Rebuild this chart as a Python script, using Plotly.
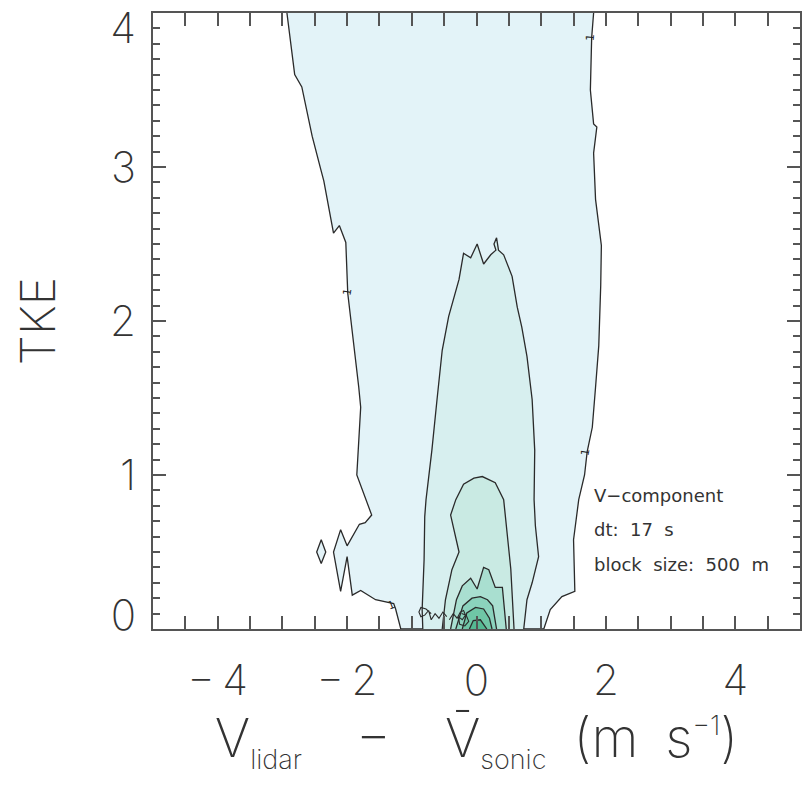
import plotly.graph_objects as go

# ---- contour boundaries (data coordinates) ----
# level 1 (outermost), left boundary, top -> bottom
outer_left_x = [-2.93, -2.81, -2.70, -2.54, -2.41, -2.36, -2.21, -2.12, -2.02, -1.99,
                -1.82, -1.79, -1.85, -1.77, -1.66, -1.62, -1.72, -1.81, -2.00, -2.10,
                -2.21, -2.10, -2.00, -1.92, -1.79, -1.56, -1.28, -1.25, -1.17]
outer_left_y = [4.00, 3.60, 3.52, 3.20, 2.99, 2.91, 2.57, 2.62, 2.51, 2.18,
                1.57, 1.44, 1.00, 0.91, 0.78, 0.74, 0.69, 0.68, 0.54, 0.645,
                0.50, 0.245, 0.47, 0.22, 0.25, 0.19, 0.165, 0.13, 0.00]
# level 1, right boundary, bottom -> top
outer_right_x = [1.04, 1.14, 1.32, 1.52, 1.50, 1.58, 1.67, 1.71, 1.79, 1.84,
                 1.89, 1.92, 1.93, 1.84, 1.81, 1.86, 1.81, 1.76, 1.78, 1.81]
outer_right_y = [0.00, 0.126, 0.21, 0.245, 0.58, 0.84, 1.00, 1.15, 1.31, 1.57,
                 1.84, 2.23, 2.49, 2.79, 3.09, 3.26, 3.28, 3.50, 3.84, 4.00]
# isolated level-1 island
island_x = [-2.40, -2.47, -2.40, -2.33, -2.40]
island_y = [0.58, 0.50, 0.425, 0.50, 0.58]

level2_x = [-0.83, -0.84, -0.81, -0.80, -0.78, -0.69, -0.61, -0.53, -0.43, -0.27,
            -0.20, -0.09, 0.01, 0.11, 0.22, 0.30, 0.27, 0.31, 0.34, 0.42,
            0.55, 0.63, 0.70, 0.78, 0.86, 0.90, 0.89, 0.91, 0.96, 0.86, 0.78, 0.73]
level2_y = [0.00, 0.126, 0.45, 0.73, 0.84, 1.16, 1.49, 1.81, 2.03, 2.27,
            2.44, 2.41, 2.50, 2.37, 2.43, 2.46, 2.50, 2.54, 2.46, 2.43,
            2.29, 2.09, 1.96, 1.77, 1.49, 1.16, 0.84, 0.67, 0.47, 0.30, 0.19, 0.00]

level3_x = [-0.53, -0.48, -0.38, -0.27, -0.40, -0.32, -0.20, -0.04, 0.09, 0.29,
            0.42, 0.47, 0.53, 0.58]
level3_y = [0.00, 0.19, 0.385, 0.50, 0.74, 0.84, 0.94, 0.98, 0.99, 0.95,
            0.84, 0.645, 0.39, 0.00]

level4_x = [-0.40, -0.31, -0.22, -0.09, 0.01, 0.11, 0.19, 0.29, 0.40, 0.46]
level4_y = [0.00, 0.19, 0.28, 0.33, 0.26, 0.40, 0.385, 0.27, 0.27, 0.00]

level5_x = [-0.32, -0.21, -0.07, 0.06, 0.17, 0.25, 0.31]
level5_y = [0.00, 0.15, 0.20, 0.21, 0.19, 0.15, 0.00]

level6_x = [-0.22, -0.15, -0.015, 0.11, 0.20, 0.24]
level6_y = [0.00, 0.105, 0.14, 0.13, 0.07, 0.00]

level7_x = [-0.11, -0.05, 0.06, 0.16]
level7_y = [0.00, 0.055, 0.06, 0.00]

# small noisy contour loops near the origin
loop_a_x = [-0.70, -0.78, -0.86, -0.89, -0.86, -0.80, -0.74, -0.70, -0.64, -0.58, -0.52, -0.46]
loop_a_y = [0.10, 0.13, 0.14, 0.11, 0.08, 0.09, 0.12, 0.06, 0.10, 0.07, 0.11, 0.08]
loop_b_x = [-0.42, -0.36, -0.30, -0.25, -0.20, -0.17, -0.22, -0.28, -0.26, -0.18, -0.12, -0.16, -0.23]
loop_b_y = [0.06, 0.10, 0.07, 0.11, 0.12, 0.09, 0.06, 0.08, 0.03, 0.02, 0.05, 0.09, 0.10]

# contour level labels ("1") placed on the outer contour
clabel_x = [-1.99, 1.76, 1.69, -1.32]
clabel_y = [2.19, 3.84, 1.15, 0.15]
clabel_angle = [-80, -85, -80, -20]

fill_colors = ["#e3f3f8", "#d7efef", "#c9eae3", "#a9dfd0", "#8bd3bd", "#6fc6a6", "#55b993"]
line_color = "#2a2a2a"

# tick labels
x_tickvals = [-4, -2, 0, 2, 4]
x_ticktext = ["\u2212\u20094", "\u2212\u20092", "0", "2", "4"]
y_tickvals = [0, 1, 2, 3, 4]
y_ticktext = ["0", "1", "2", "3", "4"]
# where the y labels sit (end labels pulled inside the frame, as in the reference)
y_labelvals = [0.09, 1, 2, 3, 3.9]

info_lines = ["V\u2212component", "dt:  17  s", "block  size:  500  m"]
info_y = [0.866, 0.645, 0.418]
info_x = 1.79

fig = go.Figure()


def add_poly(xs, ys, color):
    fig.add_trace(go.Scatter(x=xs, y=ys, mode="lines", fill="toself", fillcolor=color,
                             line=dict(color=line_color, width=1.3), hoverinfo="skip",
                             showlegend=False))


add_poly(outer_left_x + outer_right_x, outer_left_y + outer_right_y, fill_colors[0])
add_poly(island_x, island_y, fill_colors[0])
add_poly(level2_x, level2_y, fill_colors[1])
add_poly(level3_x, level3_y, fill_colors[2])
add_poly(level4_x, level4_y, fill_colors[3])
add_poly(level5_x, level5_y, fill_colors[4])
add_poly(level6_x, level6_y, fill_colors[5])
add_poly(level7_x, level7_y, fill_colors[6])
for lx, ly in [(loop_a_x, loop_a_y), (loop_b_x, loop_b_y)]:
    fig.add_trace(go.Scatter(x=lx, y=ly, mode="lines", line=dict(color=line_color, width=1.1),
                             hoverinfo="skip", showlegend=False))
# empty trace so the label axis is drawn
fig.add_trace(go.Scatter(x=[None], y=[None], yaxis="y2", mode="lines",
                         hoverinfo="skip", showlegend=False))

for cx, cy, ca in zip(clabel_x, clabel_y, clabel_angle):
    fig.add_annotation(x=cx, y=cy, xref="x", yref="y", text="1", showarrow=False,
                       textangle=ca, font=dict(family="DejaVu Sans", size=11, color="#222222"))

for txt, yy in zip(info_lines, info_y):
    fig.add_annotation(x=info_x, y=yy, xref="x", yref="y", text=txt, showarrow=False,
                       xanchor="left", yanchor="middle",
                       font=dict(family="DejaVu Sans", size=18, color="#333333"))

tick_font = dict(family="Inter", size=42, color="#333333", weight=200)
axis_common = dict(showgrid=False, zeroline=False, showline=True, linecolor="#555555",
                   linewidth=2, mirror="allticks", ticks="inside", ticklen=13,
                   tickwidth=1.5, tickcolor="#555555", tickfont=tick_font,
                   ticklabeloverflow="allow", automargin=False)

sub_style = "font-size:27px;color:#333333"
x_title = ("V<sub><span style='" + sub_style + "'>lidar</span></sub>\u2003\u2212\u2003"
           "V\u0304<sub><span style='" + sub_style + "'>sonic</span></sub>\u2002"
           "(m\u2002s<sup><span style='" + sub_style + "'>\u22121</span></sup>)")

fig.update_xaxes(range=[-5, 5], tickvals=x_tickvals, ticktext=x_ticktext,
                 minor=dict(dtick=0.5, ticks="inside", ticklen=7, tickwidth=1.5,
                            tickcolor="#555555", showgrid=False),
                 ticklabelstandoff=14,
                 title=dict(text=x_title,
                            font=dict(family="Inter", size=54, color="#333333", weight=200),
                            standoff=6),
                 **axis_common)
fig.update_yaxes(range=[0, 4], tickvals=y_tickvals, ticktext=y_ticktext,
                 showticklabels=False,
                 minor=dict(dtick=0.1, ticks="inside", ticklen=7, tickwidth=1.5,
                            tickcolor="#555555", showgrid=False),
                 title=dict(text="TKE", font=dict(family="Inter", size=48, color="#333333", weight=200),
                            standoff=80),
                 **axis_common)

fig.update_layout(
    width=808, height=787, margin=dict(l=153, r=8, t=13, b=158),
    plot_bgcolor="white", paper_bgcolor="white",
    yaxis2=dict(overlaying="y", side="left", range=[0, 4], tickvals=y_labelvals,
                ticktext=y_ticktext, showline=False, showgrid=False, zeroline=False,
                ticks="", tickfont=tick_font, ticklabelstandoff=16,
                ticklabeloverflow="allow", automargin=False),
)

fig.write_html("out.html")
